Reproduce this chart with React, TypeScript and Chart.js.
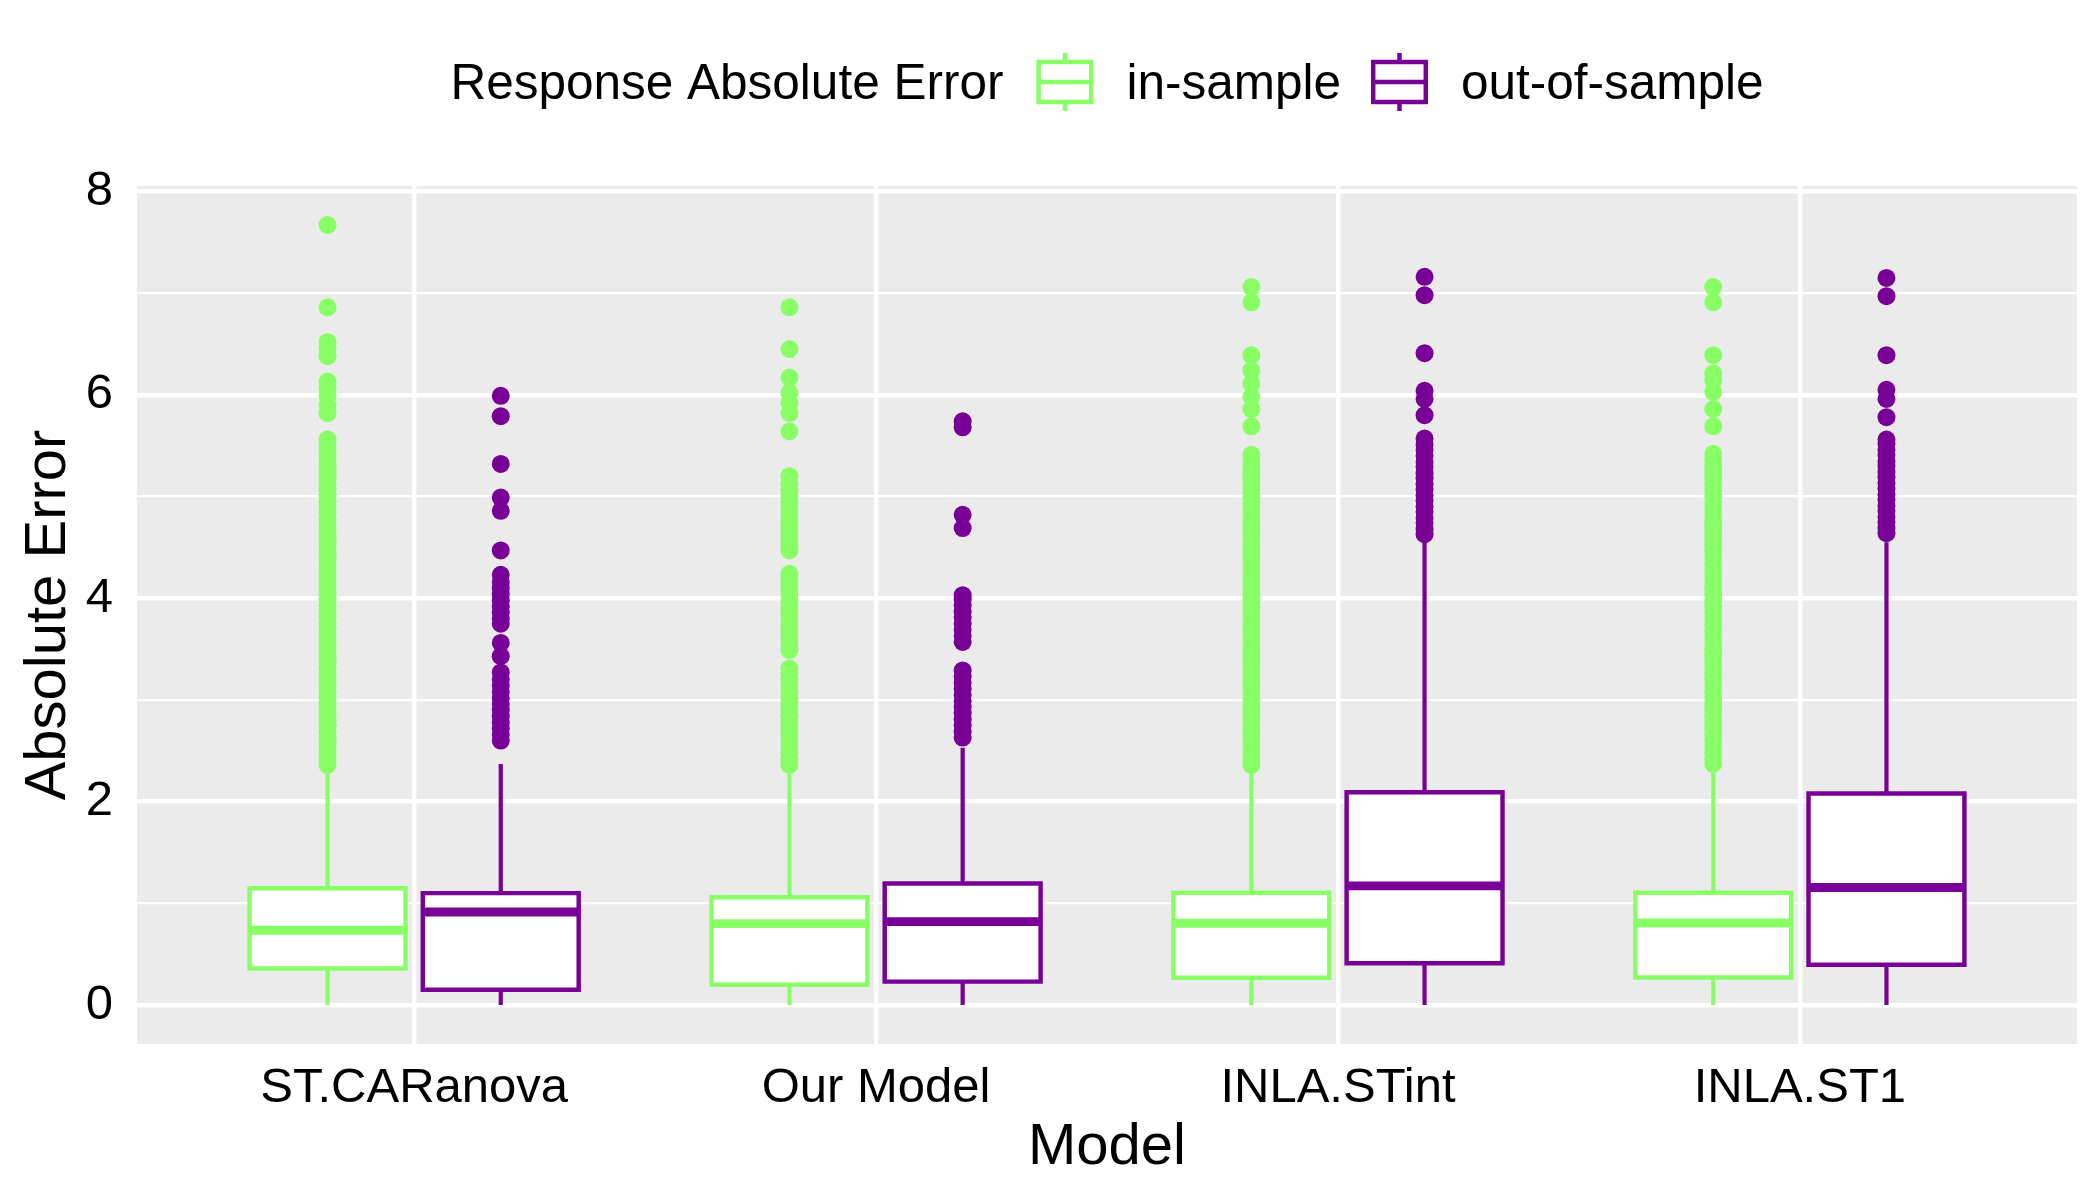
import React, { useEffect, useRef } from 'react';
import { Chart, registerables } from 'chart.js';

Chart.register(...registerables);

// ---------------- data ----------------
const categories = ['ST.CARanova', 'Our Model', 'INLA.STint', 'INLA.ST1'];
const seriesNames = ['in-sample', 'out-of-sample'];
const legendTitle = 'Response Absolute Error';
const xTitle = 'Model';
const yTitle = 'Absolute Error';
const yMajorTicks = [0, 2, 4, 6, 8];

// [lower whisker, Q1, median, Q3, upper whisker] per model
const inSampleStats = [
  [0, 0.358, 0.735, 1.148, 2.31],
  [0, 0.2, 0.8, 1.06, 2.31],
  [0, 0.268, 0.804, 1.104, 2.29],
  [0, 0.27, 0.806, 1.104, 2.29],
];
const outSampleStats = [
  [0, 0.15, 0.915, 1.1, 2.37],
  [0, 0.23, 0.82, 1.195, 2.53],
  [0, 0.41, 1.171, 2.093, 4.55],
  [0, 0.395, 1.156, 2.08, 4.55],
];

const inSampleOutliers = [
  [2.36, 2.41, 2.47, 2.52, 2.58, 2.63, 2.69, 2.75, 2.8, 2.86, 2.91, 2.97, 3.03, 3.08, 3.14, 3.2, 3.25, 3.31, 3.37, 3.42, 3.48, 3.54, 3.59, 3.65, 3.71, 3.76, 3.82, 3.88, 3.93, 3.99, 4.05, 4.1, 4.16, 4.22, 4.27, 4.33, 4.39, 4.44, 4.5, 4.56, 4.61, 4.67, 4.73, 4.78, 4.84, 4.9, 4.95, 5.01, 5.07, 5.12, 5.18, 5.24, 5.29, 5.35, 5.41, 5.46, 5.52, 5.56, 5.82, 5.9, 5.99, 6.06, 6.13, 6.38, 6.45, 6.52, 6.86, 7.67],
  [2.36, 2.42, 2.48, 2.54, 2.6, 2.66, 2.72, 2.78, 2.84, 2.9, 2.96, 3.02, 3.08, 3.14, 3.2, 3.26, 3.31, 3.49, 3.55, 3.61, 3.67, 3.73, 3.79, 3.85, 3.91, 3.97, 4.03, 4.09, 4.15, 4.2, 4.24, 4.47, 4.52, 4.58, 4.64, 4.7, 4.76, 4.82, 4.88, 4.94, 5.0, 5.06, 5.12, 5.2, 5.64, 5.82, 5.92, 6.02, 6.17, 6.45, 6.86],
  [2.36, 2.41, 2.47, 2.53, 2.59, 2.65, 2.71, 2.77, 2.83, 2.89, 2.95, 3.01, 3.07, 3.13, 3.19, 3.25, 3.31, 3.37, 3.43, 3.49, 3.55, 3.61, 3.67, 3.73, 3.79, 3.85, 3.91, 3.97, 4.03, 4.09, 4.15, 4.21, 4.27, 4.33, 4.39, 4.45, 4.51, 4.57, 4.63, 4.69, 4.75, 4.81, 4.87, 4.93, 4.99, 5.05, 5.11, 5.17, 5.23, 5.29, 5.35, 5.41, 5.69, 5.86, 5.98, 6.11, 6.24, 6.39, 6.91, 7.06],
  [2.37, 2.42, 2.48, 2.54, 2.6, 2.66, 2.72, 2.78, 2.84, 2.9, 2.96, 3.02, 3.08, 3.14, 3.2, 3.26, 3.32, 3.38, 3.44, 3.5, 3.56, 3.62, 3.68, 3.74, 3.8, 3.86, 3.92, 3.98, 4.04, 4.1, 4.16, 4.22, 4.28, 4.34, 4.4, 4.46, 4.52, 4.58, 4.64, 4.7, 4.76, 4.82, 4.88, 4.94, 5.0, 5.06, 5.12, 5.18, 5.24, 5.3, 5.36, 5.42, 5.69, 5.86, 6.03, 6.14, 6.21, 6.39, 6.91, 7.06],
];
const outSampleOutliers = [
  [2.6, 2.66, 2.72, 2.78, 2.84, 2.9, 2.96, 3.02, 3.08, 3.14, 3.2, 3.27, 3.43, 3.56, 3.75, 3.8, 3.86, 3.92, 3.98, 4.04, 4.1, 4.16, 4.23, 4.47, 4.86, 4.99, 5.32, 5.79, 5.99],
  [2.63, 2.69, 2.75, 2.81, 2.87, 2.93, 2.99, 3.05, 3.11, 3.17, 3.23, 3.29, 3.57, 3.63, 3.69, 3.75, 3.81, 3.87, 3.93, 3.99, 4.03, 4.69, 4.82, 5.68, 5.74],
  [4.63, 4.68, 4.74, 4.79, 4.85, 4.9, 4.96, 5.01, 5.07, 5.12, 5.18, 5.23, 5.29, 5.34, 5.4, 5.46, 5.51, 5.57, 5.8, 5.96, 6.04, 6.41, 6.98, 7.16],
  [4.64, 4.69, 4.75, 4.8, 4.86, 4.91, 4.97, 5.02, 5.08, 5.13, 5.19, 5.24, 5.3, 5.35, 5.41, 5.46, 5.52, 5.56, 5.78, 5.96, 6.05, 6.39, 6.97, 7.15],
];

// ---------------- styling ----------------
const COLORS = ['#89FF66', '#780096'];
const FONT = "'Liberation Sans', Arial, Helvetica, sans-serif";
const DODGE = 0.1875;
const HALF_BOX = 0.16875;
const BOX_LW = 4.45;
const MED_LW = 8.9;

function buildSeries(name: string, color: string, stats: number[][], outliers: number[][], offset: number) {
  const boxes = stats.map((s, i) => ({ x: i + 1 + offset, y: [s[1], s[3]] }));
  const outline: any[] = [];
  const whiskers: any[] = [];
  const medians: any[] = [];
  const points: any[] = [];
  stats.forEach((s, i) => {
    const x = i + 1 + offset;
    whiskers.push({ x, y: s[3] }, { x, y: s[4] }, { x, y: null }, { x, y: s[1] }, { x, y: s[0] }, { x, y: null });
    outline.push(
      { x: x - HALF_BOX, y: s[1] }, { x: x - HALF_BOX, y: s[3] }, { x: x + HALF_BOX, y: s[3] },
      { x: x + HALF_BOX, y: s[1] }, { x: x - HALF_BOX, y: s[1] }, { x, y: null },
    );
    medians.push({ x: x - HALF_BOX, y: s[2] }, { x: x + HALF_BOX, y: s[2] }, { x, y: null });
  });
  outliers.forEach((arr, i) => arr.forEach((v) => points.push({ x: i + 1 + offset, y: v })));
  return [
    {
      type: 'line', label: name + ' whiskers', data: whiskers, borderColor: color, borderWidth: 4.2,
      pointRadius: 0, spanGaps: false, fill: false, order: 5, borderCapStyle: 'butt',
    },
    {
      type: 'bar', label: name, data: boxes, backgroundColor: '#FFFFFF', borderColor: color,
      borderWidth: 0, borderSkipped: false, grouped: false, categoryPercentage: 1, barPercentage: 0.9,
      order: 4,
    },
    {
      type: 'line', label: name + ' box', data: outline, borderColor: color, borderWidth: BOX_LW,
      pointRadius: 0, spanGaps: false, fill: false, order: 3, borderCapStyle: 'square', borderJoinStyle: 'miter',
    },
    {
      type: 'line', label: name + ' median', data: medians, borderColor: color, borderWidth: MED_LW,
      pointRadius: 0, spanGaps: false, fill: false, order: 2, borderCapStyle: 'butt',
    },
    {
      type: 'scatter', label: name + ' outliers', data: points, backgroundColor: color, borderWidth: 0,
      pointRadius: 9, pointHoverRadius: 9, order: 1,
    },
  ];
}

const panelBackground = {
  id: 'panelBackground',
  beforeDraw(chart: any) {
    const { ctx, chartArea: a } = chart;
    ctx.save();
    ctx.fillStyle = '#EBEBEB';
    ctx.fillRect(a.left, a.top, a.right - a.left, a.bottom - a.top);
    ctx.restore();
  },
};

const boxLegend = {
  id: 'boxLegend',
  afterDraw(chart: any) {
    const { ctx, chartArea: a } = chart;
    const cy = 85;
    ctx.save();
    ctx.font = `49.5px ${FONT}`;
    ctx.fillStyle = '#000';
    ctx.textBaseline = 'middle';
    ctx.textAlign = 'left';
    const glyphW = 57;
    const gapTitle = 33, gapGlyph = 33, gapItem = 30;
    const titleW = ctx.measureText(legendTitle).width;
    const labelW = seriesNames.map((n) => ctx.measureText(n).width);
    const total = titleW + gapTitle + seriesNames.reduce((acc, _n, i) => acc + glyphW + gapGlyph + labelW[i], 0) + gapItem * (seriesNames.length - 1);
    let x = (a.left + a.right) / 2 - total / 2;
    ctx.fillText(legendTitle, x, cy);
    x += titleW + gapTitle;
    const gy = 82;
    seriesNames.forEach((n, i) => {
      const color = COLORS[i];
      ctx.strokeStyle = color;
      ctx.lineWidth = BOX_LW;
      ctx.fillStyle = '#FFFFFF';
      const top = gy - 20, bot = gy + 20;
      ctx.fillRect(x, top, glyphW, bot - top);
      ctx.strokeRect(x + BOX_LW / 2, top, glyphW - BOX_LW, bot - top);
      ctx.beginPath();
      ctx.moveTo(x + BOX_LW / 2, gy); ctx.lineTo(x + glyphW - BOX_LW / 2, gy);
      ctx.moveTo(x + glyphW / 2, top); ctx.lineTo(x + glyphW / 2, top - 9);
      ctx.moveTo(x + glyphW / 2, bot); ctx.lineTo(x + glyphW / 2, bot + 9);
      ctx.stroke();
      x += glyphW + gapGlyph;
      ctx.fillStyle = '#000';
      ctx.fillText(n, x, cy);
      x += labelW[i] + gapItem;
    });
    ctx.restore();
  },
};

export default function App() {
  const canvasRef = useRef<HTMLCanvasElement | null>(null);

  useEffect(() => {
    if (!canvasRef.current) return;
    Chart.defaults.font.family = FONT;
    const datasets: any[] = [
      ...buildSeries(seriesNames[0], COLORS[0], inSampleStats, inSampleOutliers, -DODGE),
      ...buildSeries(seriesNames[1], COLORS[1], outSampleStats, outSampleOutliers, DODGE),
    ];
    const chart = new Chart(canvasRef.current, {
      type: 'scatter',
      data: { datasets },
      options: {
        animation: false,
        responsive: false,
        devicePixelRatio: 1,
        layout: { padding: { top: 186, right: 23, left: 0, bottom: 0 } },
        plugins: {
          legend: { display: false },
          tooltip: { enabled: false },
          title: { display: false },
        },
        scales: {
          x: {
            type: 'linear',
            min: 0.4,
            max: 4.6,
            offset: false,
            ticks: {
              stepSize: 1,
              includeBounds: false,
              autoSkip: false,
              maxRotation: 0,
              minRotation: 0,
              padding: 15,
              color: '#000',
              font: { size: 49, family: FONT },
              callback: (v: any) => categories[Math.round(Number(v)) - 1] ?? '',
            },
            grid: { color: '#FFFFFF', lineWidth: 4.45, drawTicks: false, offset: false },
            border: { display: false },
            title: {
              display: true,
              text: xTitle,
              color: '#000',
              font: { size: 58, family: FONT },
              padding: { top: 0, bottom: 17 },
            },
            afterFit: (s: any) => { s.height = 156; },
          },
          y: {
            type: 'linear',
            min: -0.3835,
            max: 8.0535,
            ticks: {
              stepSize: 1,
              includeBounds: false,
              autoSkip: false,
              padding: 24,
              color: '#000',
              font: { size: 49, family: FONT },
              callback: (v: any) => (yMajorTicks.includes(Number(v)) ? String(v) : ''),
            },
            grid: {
              color: '#FFFFFF',
              lineWidth: (c: any) => (c.tick && yMajorTicks.includes(c.tick.value) ? 4.45 : 2.2),
              drawTicks: false,
            },
            border: { display: false },
            title: {
              display: true,
              text: yTitle,
              color: '#000',
              font: { size: 58, family: FONT },
              padding: { top: 14, bottom: 0 },
            },
            afterFit: (s: any) => { s.width = 137; },
          },
        },
      } as any,
      plugins: [panelBackground, boxLegend],
    });
    return () => chart.destroy();
  }, []);

  return (
    <div style={{ position: 'fixed', left: 0, top: 0, width: 2100, height: 1200, background: '#FFFFFF' }}>
      <canvas ref={canvasRef} width={2100} height={1200} style={{ display: 'block' }} />
    </div>
  );
}
